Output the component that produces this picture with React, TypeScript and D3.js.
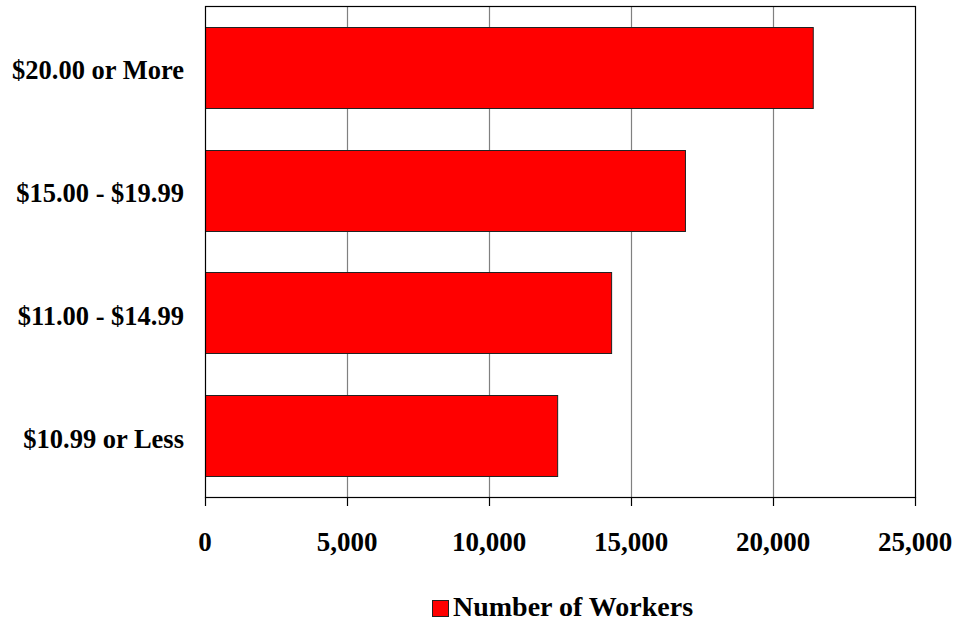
import React, { useEffect, useRef } from 'react'
import * as d3 from 'd3'

const categories = ['$20.00 or More', '$15.00 - $19.99', '$11.00 - $14.99', '$10.99 or Less']
const workers = [21400, 16900, 14300, 12400]
const xTicks = [0, 5000, 10000, 15000, 20000, 25000]
const seriesName = 'Number of Workers'

export default function App() {
  const ref = useRef<SVGSVGElement | null>(null)

  useEffect(() => {
    if (!ref.current) return
    const width = 955
    const height = 622
    const margin = { top: 6, right: 40, bottom: 125, left: 205 }
    const font = '"Liberation Serif", "Times New Roman", serif'

    const svg = d3.select(ref.current)
    svg.selectAll('*').remove()

    const x = d3.scaleLinear()
      .domain([0, 25000])
      .range([margin.left, width - margin.right])

    const y = d3.scaleBand<string>()
      .domain(categories)
      .range([margin.top, height - margin.bottom])
      .paddingInner(0.34)
      .paddingOuter(0.17)

    const g = svg.append('g')

    // gridlines
    g.selectAll('line.grid')
      .data(xTicks.slice(1, -1))
      .join('line')
      .attr('class', 'grid')
      .attr('x1', d => x(d) + 0.5)
      .attr('x2', d => x(d) + 0.5)
      .attr('y1', margin.top)
      .attr('y2', height - margin.bottom)
      .attr('stroke', '#808080')
      .attr('stroke-width', 1.2)

    // bars
    g.selectAll('rect.bar')
      .data(workers)
      .join('rect')
      .attr('class', 'bar')
      .attr('x', x(0) + 0.5)
      .attr('y', (_, i) => Math.round(y(categories[i]) ?? 0) + 0.5)
      .attr('width', d => x(d) - x(0))
      .attr('height', Math.round(y.bandwidth()))
      .attr('fill', '#ff0000')
      .attr('stroke', '#222')
      .attr('stroke-width', 1)

    // plot frame
    g.append('rect')
      .attr('x', margin.left + 0.5)
      .attr('y', margin.top + 0.5)
      .attr('width', x(25000) - x(0))
      .attr('height', height - margin.bottom - margin.top)
      .attr('fill', 'none')
      .attr('stroke', '#000')
      .attr('stroke-width', 1.2)

    // x tick marks
    g.selectAll('line.tick')
      .data(xTicks)
      .join('line')
      .attr('class', 'tick')
      .attr('x1', d => x(d) + 0.5)
      .attr('x2', d => x(d) + 0.5)
      .attr('y1', height - margin.bottom)
      .attr('y2', height - margin.bottom + 9)
      .attr('stroke', '#000')
      .attr('stroke-width', 1.2)

    // x tick labels
    g.selectAll('text.xlab')
      .data(xTicks)
      .join('text')
      .attr('class', 'xlab')
      .attr('x', d => x(d))
      .attr('y', 551)
      .attr('text-anchor', 'middle')
      .attr('font-family', font)
      .attr('font-weight', 'bold')
      .attr('font-size', 27)
      .text(d => d3.format(',')(d))

    // category labels
    g.selectAll('text.ylab')
      .data(categories)
      .join('text')
      .attr('class', 'ylab')
      .attr('x', 184)
      .attr('y', d => (y(d) ?? 0) + y.bandwidth() / 2 + 12)
      .attr('text-anchor', 'end')
      .attr('font-family', font)
      .attr('font-weight', 'bold')
      .attr('font-size', 26.5)
      .text(d => d)

    // legend
    const lg = svg.append('g').attr('transform', 'translate(432,600)')
    lg.append('rect')
      .attr('x', 0.5)
      .attr('y', 0.5)
      .attr('width', 16)
      .attr('height', 16)
      .attr('fill', '#ff0000')
      .attr('stroke', '#222')
    lg.append('text')
      .attr('x', 21)
      .attr('y', 16)
      .attr('font-family', font)
      .attr('font-weight', 'bold')
      .attr('font-size', 28)
      .text(seriesName)
  }, [])

  return (
    <svg
      ref={ref}
      width={955}
      height={622}
      style={{ position: 'absolute', left: 0, top: 0, background: '#fff' }}
    />
  )
}
